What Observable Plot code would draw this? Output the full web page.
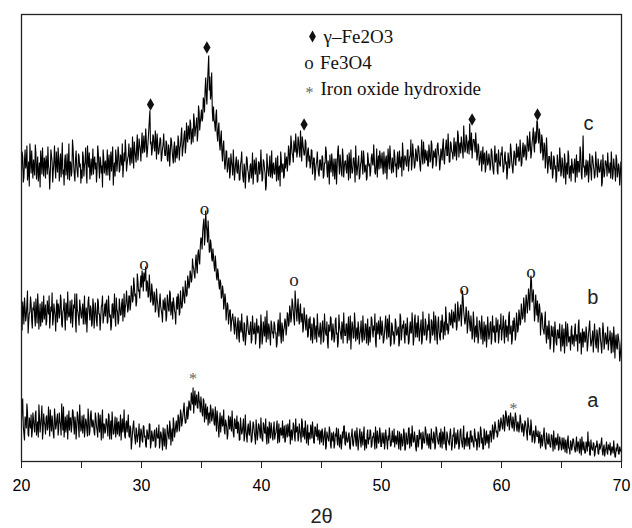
<!DOCTYPE html>
<html><head><meta charset="utf-8">
<script src="https://cdn.jsdelivr.net/npm/d3@7"></script>
<script src="https://cdn.jsdelivr.net/npm/@observablehq/plot@0.6"></script>
<style>body{margin:0;background:#fff;} svg{display:block;}</style>
</head><body><div id="chart"></div>
<script>
// 2θ scan grid: 20.0 to 70.0 in 0.1° steps; "Mid" arrays sit halfway between grid points
const angles = d3.range(501).map(i => +(20 + i / 10).toFixed(1));
const midAngles = d3.range(500).map(i => +(20.05 + i / 10).toFixed(2));

// Intensities (arbitrary units, offset traces)
const seriesC = [
290,305,284,312,297,281,300,318,288,295, 302,286,309,293,280,299,311,287,296,304,
283,298,315,291,288,306,279,300,294,310, 289,303,297,284,319,292,301,286,308,295,
281,299,290,313,287,302,296,284,305,298, 292,310,285,300,289,316,294,282,303,297,
287,305,299,291,309,283,300,296,312,288, 301,294,286,307,298,290,315,293,285,304,
299,308,292,303,318,295,300,311,297,306, 302,314,298,309,320,305,316,301,323,312,
318,308,326,314,322,311,330,351,320,312, 325,310,319,328,307,316,322,305,317,313,
306,318,300,312,309,321,304,314,299,316, 308,320,313,326,305,318,331,315,324,336,
322,338,327,319,341,332,344,328,350,339, 352,343,360,372,366,378,406,385,368,350,
355,338,346,327,333,318,324,309,316,303, 298,310,293,304,289,300,286,297,291,305,
288,296,282,301,291,279,294,286,303,289, 284,298,290,277,302,287,293,281,299,292,
295,283,300,288,276,297,285,306,290,283, 299,287,304,292,281,296,310,289,298,286,
293,305,299,312,302,318,306,321,309,315, 310,320,304,316,325,312,308,319,301,314,
306,298,311,294,303,289,300,296,285,302, 291,304,286,298,310,284,295,307,289,300,
296,282,303,292,316,287,299,285,305,294, 301,288,297,309,283,296,290,304,279,298,
293,306,285,300,295,311,289,297,284,302, 298,290,308,296,303,287,313,299,292,305,
301,294,310,288,306,297,300,316,293,304, 289,307,298,303,292,311,296,285,309,300,
304,295,312,299,306,291,318,302,297,309, 300,314,296,308,303,320,298,306,311,295,
310,302,317,297,306,313,301,319,305,298, 308,316,303,311,322,306,314,300,318,309,
313,305,320,310,326,315,308,318,303,321, 312,324,316,307,319,329,314,322,309,317,
306,315,300,311,303,297,309,294,305,299, 302,296,310,291,304,299,308,287,301,295,
306,298,293,310,300,289,303,297,312,294, 301,308,296,304,315,302,310,298,319,307,
314,305,321,312,318,309,325,316,330,320, 339,318,327,311,322,306,316,301,310,297,
305,292,300,288,303,296,285,299,291,304, 290,298,283,301,294,287,306,292,280,297,
288,303,295,284,300,291,309,282,326,296, 293,286,301,289,297,281,304,292,287,299,
284,296,290,302,279,294,288,300,285,297, 291,283,299,287,295,280,302,289,294,286,
297];
const seriesCMid = [
310,279,301,293,316,288,275,304,311,283, 294,317,282,305,290,274,302,314,285,299,
306,287,296,272,312,300,291,316,283,297, 314,280,308,299,287,276,307,293,282,318,
300,285,322,296,280,311,289,308,294,278, 283,305,296,314,278,302,309,291,286,313,
301,292,279,316,295,305,288,274,304,298, 286,312,300,281,310,303,276,299,312,290,
315,289,307,296,284,309,322,290,303,318, 296,306,325,293,311,299,327,308,316,300,
329,315,309,333,304,320,341,317,306,327, 314,331,302,318,309,324,300,313,328,306,
321,302,317,295,324,311,298,320,307,303, 326,301,316,334,312,327,308,339,319,330,
342,317,333,348,325,337,320,356,331,345, 340,364,349,384,357,392,371,362,389,340,
342,330,352,320,339,311,331,300,321,292, 311,289,302,283,308,295,312,281,299,290,
302,281,297,310,284,298,273,305,292,279, 296,283,309,288,295,304,279,300,287,312,
280,302,293,271,308,290,296,284,311,295, 288,297,280,306,293,275,301,296,283,309,
301,290,316,296,326,308,299,314,328,304, 325,309,331,300,318,306,322,294,311,300,
293,312,287,304,281,297,310,288,301,292, 306,283,299,315,292,301,277,296,308,285,
303,294,277,310,298,307,290,313,284,300, 292,307,281,300,312,288,303,294,316,286,
300,282,297,311,287,303,294,281,309,295, 285,304,298,317,289,297,284,306,311,293,
309,287,298,303,282,313,292,306,288,296, 312,295,284,310,300,294,305,319,291,306,
297,311,290,305,322,298,309,293,313,301, 316,306,290,322,297,309,312,301,296,317,
299,321,293,311,304,295,316,308,291,313, 301,323,297,315,306,328,299,320,310,302,
324,314,301,331,304,319,325,311,336,309, 327,308,321,338,311,303,322,318,329,301,
318,296,308,290,315,306,289,311,296,308, 291,313,299,287,316,305,290,312,297,309,
315,289,305,297,282,309,293,318,300,288, 311,297,318,306,300,322,295,313,304,317,
301,326,310,330,303,319,334,309,318,341, 324,333,308,327,301,319,293,324,288,305,
296,310,283,306,292,279,307,290,314,285, 304,286,308,277,299,311,283,296,303,289,
297,279,307,300,289,315,287,301,294,284, 302,295,279,308,290,306,297,283,310,292,
303,289,298,275,307,284,301,295,309,288, 299,310,282,303,291,307,284,298,276,300];

const seriesB = [
142,160,137,153,146,171,139,150,158,133, 151,144,163,138,155,147,135,160,149,142,
157,140,152,166,143,150,136,158,145,153, 139,155,148,161,134,152,144,159,141,150,
147,138,162,145,153,140,168,149,136,155, 143,158,150,137,154,146,165,141,152,139,
156,144,151,135,160,148,142,157,138,150, 145,162,140,153,147,136,158,149,143,164,
150,141,155,147,163,152,144,158,161,153, 165,157,170,162,176,168,160,181,172,178,
174,183,189,186,170,179,166,175,162,171, 158,166,152,163,149,160,155,147,162,151,
157,145,161,150,168,153,142,159,148,156, 152,163,149,160,156,170,158,174,167,181,
176,188,182,195,187,200,194,208,201,215, 222,230,243,225,236,219,228,210,217,200,
205,190,198,181,188,172,179,165,171,158, 163,150,156,144,152,139,148,135,145,130,
138,126,141,129,133,120,137,124,146,131, 127,140,122,135,130,117,143,128,134,121,
136,124,132,145,119,130,138,125,141,128, 123,137,129,118,142,131,126,139,120,134,
140,133,147,138,151,144,158,142,171,149, 155,143,152,139,148,134,145,131,140,126,
133,121,138,127,142,130,119,135,124,139, 128,141,122,134,126,119,137,130,143,125,
131,123,144,129,120,136,127,140,118,133, 126,138,130,121,146,128,135,124,139,129,
122,134,127,141,119,132,125,137,130,116, 135,128,142,124,131,120,139,127,133,145,
126,134,121,137,129,143,124,131,118,136, 130,122,139,127,135,119,144,128,133,125,
138,126,131,120,140,129,136,123,147,132, 124,137,129,142,121,134,127,139,126,131,
135,123,140,128,133,146,125,138,130,121, 129,141,134,126,145,138,131,147,140,136,
150,139,146,135,152,143,157,148,163,144, 141,149,136,144,130,138,127,141,133,124,
131,125,139,122,134,128,120,137,126,133, 127,140,123,131,136,119,129,142,125,132,
121,135,128,139,124,133,145,127,136,122, 130,138,126,141,133,147,139,151,145,156,
152,161,157,166,170,181,163,158,149,155, 161,147,153,139,145,131,140,127,136,122,
130,118,127,135,121,129,116,132,124,120, 128,115,133,122,126,138,119,125,131,117,
124,132,120,127,136,118,129,123,114,130, 121,128,117,134,125,119,131,122,126,113,
127,119,133,116,124,130,118,126,121,111, 123,117,129,109,125,120,114,128,118,106,
122];
const seriesBMid = [
131,152,164,140,157,128,148,165,141,154, 160,135,149,168,132,158,145,139,166,150,
136,161,147,133,155,169,142,151,130,162, 158,143,167,137,150,163,131,155,170,144,
161,150,134,157,168,129,152,144,162,147, 152,137,166,145,129,160,149,156,135,163,
133,159,140,163,147,131,155,166,144,158, 159,138,166,144,131,157,143,168,135,152,
137,163,146,158,140,168,154,171,149,166, 151,176,159,184,165,155,188,170,163,186,
191,170,180,195,181,164,187,159,178,156, 170,149,173,158,144,168,151,139,157,164,
140,167,152,171,146,160,164,151,137,165, 168,146,171,153,175,162,181,165,186,173,
191,179,203,193,183,207,188,212,197,224, 212,237,216,251,231,241,209,222,203,213,
196,206,184,193,177,182,163,176,152,168, 141,159,137,151,130,144,141,127,139,122,
144,119,134,148,125,139,116,131,140,127, 135,118,146,127,139,124,132,136,113,147,
117,140,125,130,151,122,134,116,137,130, 140,128,114,137,125,149,118,135,131,143,
126,149,135,156,139,163,150,136,160,140, 163,137,158,146,129,154,138,147,124,143,
145,128,118,144,122,136,148,127,132,117, 136,119,148,128,140,113,131,145,121,138,
119,141,127,114,147,131,122,135,149,126, 137,118,145,129,112,140,123,149,120,134,
140,117,131,124,146,121,138,118,143,127, 119,145,131,136,148,114,132,141,122,130,
141,118,129,146,122,135,147,115,139,126, 117,143,126,132,115,148,121,137,141,118,
129,144,117,134,128,149,116,142,124,139, 146,120,135,117,150,126,143,121,137,148,
118,142,126,150,121,139,117,145,124,141, 147,122,140,155,131,127,149,136,152,133,
142,158,131,160,140,153,135,171,150,137, 155,128,151,137,146,122,150,119,136,145,
118,141,130,146,117,140,133,114,145,122, 138,117,146,129,121,144,133,118,137,148,
129,146,118,142,136,120,150,131,117,141, 144,121,149,129,152,136,158,142,164,139,
167,148,173,151,186,159,172,140,167,146, 139,158,126,149,133,127,150,118,131,141,
112,136,125,109,140,119,131,123,138,110, 137,121,108,140,115,130,124,111,136,127,
115,138,126,110,142,124,107,133,129,119, 135,110,127,141,115,124,109,138,117,132,
109,134,122,108,139,112,129,117,135,120, 131,108,121,135,103,127,112,124,100,115];

const seriesA = [
40,63,28,45,33,50,25,38,47,30, 42,29,51,35,24,44,37,56,31,39,
27,46,34,41,52,30,38,23,45,36, 48,32,40,26,43,55,34,29,47,38,
31,44,36,50,27,39,33,46,24,41, 35,28,47,32,40,25,43,30,51,34,
38,26,44,31,49,29,36,42,23,37, 30,41,25,46,34,22,39,28,45,33,
27,40,32,21,43,35,26,38,29,47, 24,33,20,36,28,17,31,25,38,22,
30,19,35,26,14,29,23,37,18,27, 21,32,16,28,24,13,30,20,34,15,
26,18,31,22,35,27,20,38,29,41, 33,44,36,48,40,52,45,39,55,47,
58,51,63,74,60,56,67,53,62,49, 57,45,61,50,42,55,47,38,52,44,
48,36,43,51,33,40,29,46,37,31, 42,34,27,39,45,30,36,24,41,33,
28,37,22,35,30,43,25,32,19,38, 26,34,21,40,29,17,33,27,36,23,
31,20,37,28,24,35,18,30,39,25, 33,22,29,41,26,19,34,27,23,36,
21,30,38,25,17,32,28,36,20,29, 35,24,31,19,40,27,22,33,26,16,
28,37,23,30,18,34,25,21,32,27, 19,29,22,34,15,26,20,31,13,24,
30,17,25,21,33,14,27,19,23,36, 16,24,20,29,12,26,18,22,31,15,
25,19,33,14,23,28,11,21,27,17, 22,30,16,24,19,35,13,26,20,28,
15,23,29,18,25,12,21,27,16,31, 20,14,26,22,17,30,11,24,19,28,
13,25,18,34,21,15,27,20,23,10, 26,17,22,29,14,24,19,31,16,21,
28,12,23,18,27,15,32,20,25,14, 22,30,17,24,11,26,19,28,21,16,
25,13,29,20,23,16,33,18,27,12, 21,27,15,24,30,19,22,14,28,23,
17,26,20,31,24,13,29,22,18,27, 23,30,25,33,28,36,31,27,38,34,
40,32,44,37,48,35,46,39,43,33, 41,36,45,30,38,34,42,29,36,31,
39,28,44,33,26,35,24,31,21,29, 25,18,30,22,15,27,20,12,24,17,
21,14,26,10,19,23,16,28,13,20, 11,18,24,9,16,21,13,7,19,15,
22,12,17,10,20,8,15,25,11,14, 9,17,30,20,6,15,11,18,8,14,
16,7,12,19,10,14,5,13,9,17, 11,6,15,8,13,4,10,16,7,12,
9];
const seriesAMid = [
52,35,21,41,58,27,44,33,24,49, 34,47,26,40,57,29,45,22,48,36,
44,31,55,25,39,46,28,53,32,43, 26,49,37,58,31,24,45,38,22,51,
43,29,52,37,45,22,50,35,57,30, 46,38,24,43,31,53,26,47,36,42,
29,49,35,24,40,47,21,52,38,28, 43,33,48,22,41,50,27,36,24,44,
38,25,47,34,29,52,23,41,37,26, 36,12,29,41,23,34,19,28,14,33,
21,36,24,16,32,22,38,13,31,20, 29,14,34,23,37,20,27,11,25,33,
12,37,25,41,16,33,44,24,36,29, 47,30,52,35,46,59,38,48,42,61,
52,69,57,48,71,62,54,70,58,65, 48,63,39,58,51,36,49,57,40,53,
38,55,30,44,24,49,41,35,52,27, 39,22,46,32,37,51,28,43,33,46,
40,21,44,27,36,20,47,26,34,28, 41,19,30,37,24,42,21,38,30,44,
22,39,29,43,17,32,40,23,33,21, 40,27,35,18,38,31,26,41,30,19,
37,24,32,42,28,21,39,25,43,33, 20,38,27,43,24,34,41,18,37,29,
22,33,40,19,35,26,38,29,17,31, 33,16,28,12,30,23,35,17,29,20,
13,28,34,16,26,22,12,30,35,18, 30,19,27,14,24,33,15,28,20,34,
11,27,20,30,16,35,22,13,32,24, 32,14,25,29,12,23,31,18,34,15,
29,18,12,32,20,26,34,15,23,19, 33,24,17,31,12,23,28,15,33,11,
29,17,33,13,28,36,19,30,14,26, 14,32,27,12,30,18,35,22,28,13,
18,33,21,30,12,35,24,17,29,33, 13,27,35,14,30,21,16,33,11,27,
34,20,17,32,12,30,22,14,36,24, 15,30,22,12,31,26,17,33,20,11,
30,14,35,18,12,33,16,31,25,13, 31,19,37,22,40,29,24,42,30,44,
35,47,30,51,39,44,31,49,36,45, 30,49,34,40,29,47,33,38,25,41,
33,21,37,27,42,19,30,18,36,25, 31,23,13,27,20,34,14,29,18,28,
15,27,19,31,12,24,20,11,25,16, 24,12,17,22,8,26,14,21,11,23,
16,9,25,18,13,23,6,17,20,8, 20,10,15,7,22,12,19,5,16,21,
8,18,14,24,6,17,11,20,7,15, 19,9,13,21,5,14,18,8,15,10];

// Peak markers
const fe2o3PeaksX = [30.75, 35.45, 43.55, 57.55, 63.0];
const fe2o3PeaksY = [357, 414, 337, 342, 347];
const fe3o4PeaksX = [30.2, 35.25, 42.7, 56.9, 62.45];
const fe3o4PeaksY = [198, 253, 182, 173, 190];
const hydroxPeaksX = [34.3, 61.0];
const hydroxPeaksY = [87, 57];

// Trace labels
const traceNames = ["c", "b", "a"];
const traceLabelX = [67.25, 67.6, 67.6];
const traceLabelY = [338, 164, 61];

// Legend
const legendLabels = ["γ–Fe2O3", "Fe3O4", "Iron oxide hydroxide"];
const legendX = [44.25, 43.95, 44.0];
const legendY = [425, 399, 373];

// X ticks
const xTicks = [20, 25, 30, 35, 40, 45, 50, 55, 60, 65, 70];

const rows = [];
[["c", seriesC, seriesCMid], ["b", seriesB, seriesBMid], ["a", seriesA, seriesAMid]].forEach(([name, vals, mids]) => {
  const pts = [];
  vals.forEach((v, i) => pts.push({series: name, x: angles[i], y: v}));
  mids.forEach((v, i) => pts.push({series: name, x: midAngles[i], y: v}));
  pts.sort((p, q) => p.x - q.x);
  rows.push(...pts);
});
const peaks = (xs, ys) => xs.map((x, i) => ({x, y: ys[i]}));

const serif = "'Liberation Serif','Times New Roman',serif";
const sans = "'Liberation Sans',Arial,Helvetica,sans-serif";

const chart = Plot.plot({
  width: 632, height: 528,
  marginLeft: 21, marginRight: 11, marginTop: 14, marginBottom: 67,
  style: {fontFamily: sans, background: "#fff"},
  x: {domain: [20, 70]},
  y: {domain: [0, 447], axis: null},
  marks: [
    Plot.line(rows, {x: "x", y: "y", z: "series", stroke: "#000", strokeWidth: 1.1, strokeLinejoin: "miter", strokeMiterlimit: 2}),
    Plot.frame({stroke: "#222", strokeWidth: 1.3}),
    Plot.axisX({ticks: xTicks, tickSize: 7, tickPadding: 11, tickFormat: d => d % 10 === 0 ? d : "",
      fontSize: 16, label: null, stroke: "#222"}),
    Plot.text(["2θ"], {frameAnchor: "bottom", dy: 61, fontSize: 20, fill: "#222"}),
    Plot.dot(peaks(fe2o3PeaksX, fe2o3PeaksY), {x: "x", y: "y", symbol: "diamond", r: 3.8, fill: "#111", stroke: "none"}),
    Plot.text(peaks(fe3o4PeaksX, fe3o4PeaksY), {x: "x", y: "y", text: () => "o", fontFamily: serif, fontSize: 19, fill: "#222"}),
    Plot.text(peaks(hydroxPeaksX, hydroxPeaksY), {x: "x", y: "y", text: () => "*", fontFamily: serif, fontSize: 16, fill: "#666", dy: 4}),
    Plot.text(traceNames, {x: (d, i) => traceLabelX[i], y: (d, i) => traceLabelY[i], text: d => d, fontSize: 20, fill: "#222"}),
    // legend symbols
    Plot.dot([0], {x: legendX[0], y: legendY[0], symbol: "diamond", r: 3.6, fill: "#111", stroke: "none"}),
    Plot.text([0], {x: legendX[1], y: legendY[1], text: () => "o", fontFamily: serif, fontSize: 19, fill: "#222"}),
    Plot.text([0], {x: legendX[2], y: legendY[2], text: () => "*", fontFamily: serif, fontSize: 16, fill: "#666", dy: 4}),
    Plot.text(legendLabels, {x: (d, i) => legendX[i] + 0.92, y: (d, i) => legendY[i], text: d => d,
      textAnchor: "start", fontFamily: serif, fontSize: 19, fill: "#111"})
  ]
});
document.getElementById("chart").append(chart);
</script>
</body></html>
